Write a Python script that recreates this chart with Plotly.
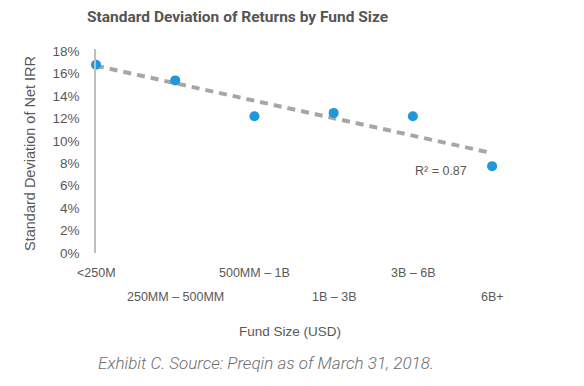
import numpy as np
import plotly.graph_objects as go

categories = ["<250M", "250MM – 500MM", "500MM – 1B", "1B – 3B", "3B – 6B", "6B+"]
std_dev = [16.8, 15.4, 12.2, 12.5, 12.2, 7.75]
y_ticks = [0, 2, 4, 6, 8, 10, 12, 14, 16, 18]
y_tick_labels = [f"{v}%" for v in y_ticks]
r2_label = "R² = 0.87"

x_idx = np.arange(len(categories))
slope, intercept = np.polyfit(x_idx, std_dev, 1)
trend_x = [x_idx[0], x_idx[-1]]
trend_y = [intercept + slope * x for x in trend_x]

OFF = 8  # default page body margin
W, H = 584 - OFF, 386 - OFF
L, R, T, B = 96 - OFF, 84, 49 - OFF, 133
plot_w = W - L - R
plot_h = H - T - B


def px_to_paper(px, py):
    # px, py are page pixel coordinates
    return (px - OFF - L) / plot_w, (T + plot_h - (py - OFF)) / plot_h


fig = go.Figure()
fig.add_trace(go.Scatter(
    x=trend_x, y=trend_y, mode="lines",
    line=dict(color="#A6A6A6", width=4, dash="8px,6px"),
    hoverinfo="skip", showlegend=False,
))
fig.add_trace(go.Scatter(
    x=x_idx, y=std_dev, mode="markers",
    marker=dict(color="#1F97D8", size=10),
    showlegend=False, cliponaxis=False,
))

font_family = "Liberation Sans, Arial, sans-serif"
annotations = []
for i, lab in enumerate(categories):
    annotations.append(dict(
        x=i, y=px_to_paper(0, 273)[1] if i % 2 == 0 else px_to_paper(0, 297)[1],
        xref="x", yref="paper",
        text=lab, showarrow=False, xanchor="center", yanchor="middle",
        font=dict(family=font_family, size=12.5, color="#595959"),
    ))
annotations.append(dict(
    x=4.35, y=7.3, xref="x", yref="y", text=r2_label, showarrow=False,
    xanchor="center", yanchor="middle",
    font=dict(family=font_family, size=12.5, color="#595959"),
))
ax, ay = px_to_paper(290, 331)
annotations.append(dict(
    x=ax, y=ay, xref="paper", yref="paper", text="Fund Size (USD)",
    showarrow=False, xanchor="center", yanchor="middle",
    font=dict(family=font_family, size=13.5, color="#595959"),
))
tx, ty = px_to_paper(30, 154)
annotations.append(dict(
    x=tx, y=ty, xref="paper", yref="paper", text="Standard Deviation of Net IRR",
    showarrow=False, textangle=-90, xanchor="center", yanchor="middle",
    font=dict(family=font_family, size=14.5, color="#595959"),
))
cx, cy = px_to_paper(266, 363)
annotations.append(dict(
    x=cx, y=cy, xref="paper", yref="paper",
    text="<i>Exhibit C. Source: Preqin as of March 31, 2018.</i>",
    showarrow=False, xanchor="center", yanchor="middle",
    font=dict(family="Roboto, sans-serif", size=17, color="#6E6E6E", weight=300),
))
hx, hy = px_to_paper(237, 17)
annotations.append(dict(
    x=hx, y=hy, xref="paper", yref="paper",
    text="<b>Standard Deviation of Returns by Fund Size</b>",
    showarrow=False, xanchor="center", yanchor="middle",
    font=dict(family="Roboto, sans-serif", size=15.5, color="#555555"),
))

fig.update_layout(
    width=W, height=H,
    margin=dict(l=L, r=R, t=T, b=B),
    paper_bgcolor="white", plot_bgcolor="white",
    xaxis=dict(
        range=[0, 5.1], showticklabels=False, showgrid=False,
        zeroline=False, showline=False, ticks="", automargin=False,
    ),
    yaxis=dict(
        range=[0, 18.2], tickvals=y_ticks, ticktext=y_tick_labels,
        showgrid=False, zeroline=False, showline=True, linecolor="#BFBFBF",
        linewidth=1.5, ticks="", ticklabelstandoff=12, automargin=False,
        tickfont=dict(family=font_family, size=13.5, color="#595959"),
    ),
    annotations=annotations,
)

fig.write_html("out.html")
